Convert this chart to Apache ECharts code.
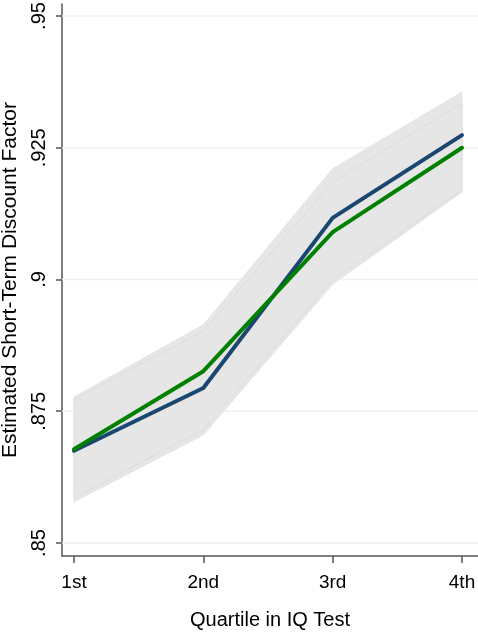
<!DOCTYPE html>
<html>
<head>
<meta charset="utf-8">
<script src="https://cdn.jsdelivr.net/npm/echarts@6/dist/echarts.min.js"></script>
<style>
  html, body { margin: 0; padding: 0; background: #fff; }
  #chart { width: 478px; height: 637px; }
</style>
</head>
<body>
<div id="chart"></div>
<script>
// Quartile categories on the x axis
const quartiles = ['1st', '2nd', '3rd', '4th'];
// Y tick values
const yTicks = [0.85, 0.875, 0.9, 0.925, 0.95];

// Point estimates
const navyEstimate = [0.8675, 0.8794, 0.9117, 0.9274];
const greenEstimate = [0.8678, 0.8826, 0.9090, 0.9250];

// Confidence bands (upper / lower)
const bandOuterUpper = [0.8777, 0.8914, 0.9210, 0.9356];
const bandOuterLower = [0.8578, 0.8705, 0.8991, 0.9166];
const bandInnerUpper = [0.8773, 0.8902, 0.9185, 0.9335];
const bandInnerLower = [0.8586, 0.8715, 0.9000, 0.9170];

const X_MIN = -0.0928, X_MAX = 3.1237;
const FONT = 'Liberation Sans';

const toPoints = arr => arr.map((v, i) => [i, v]);

function bandSeries(name, upper, lower, stroke) {
  return {
    name: name,
    type: 'custom',
    silent: true,
    z: 2,
    data: [0],
    renderItem: function (params, api) {
      const pts = [];
      for (let i = 0; i < upper.length; i++) pts.push(api.coord([i, upper[i]]));
      for (let i = lower.length - 1; i >= 0; i--) pts.push(api.coord([i, lower[i]]));
      return {
        type: 'polygon',
        shape: { points: pts },
        style: { fill: '#e6e6e6', stroke: stroke, lineWidth: 1 }
      };
    }
  };
}

// Horizontal grid lines at the y ticks
const gridLineSeries = {
  name: 'grid lines',
  type: 'custom',
  silent: true,
  z: 1,
  data: yTicks.map(v => [v]),
  renderItem: function (params, api) {
    const v = api.value(0);
    const a = api.coord([X_MIN, v]);
    const b = api.coord([X_MAX, v]);
    return {
      type: 'line',
      shape: { x1: a[0], y1: a[1], x2: b[0], y2: b[1] },
      style: { stroke: '#eaf2f3', lineWidth: 1.5 }
    };
  }
};

const chart = echarts.init(document.getElementById('chart'));
chart.setOption({
  animation: false,
  backgroundColor: '#ffffff',
  grid: { left: 62, right: 0, top: 4, bottom: 81, containLabel: false, outerBoundsMode: 'none' },
  xAxis: {
    type: 'value',
    min: X_MIN,
    max: X_MAX,
    name: 'Quartile in IQ Test',
    nameLocation: 'middle',
    nameGap: 54,
    nameTextStyle: { fontFamily: FONT, fontSize: 20, color: '#000' },
    axisLine: { onZero: false, lineStyle: { color: '#555', width: 1.5 } },
    axisTick: { customValues: [0, 1, 2, 3], length: 7, lineStyle: { color: '#555', width: 1.5 } },
    axisLabel: {
      customValues: [0, 1, 2, 3],
      formatter: v => quartiles[Math.round(v)],
      margin: 17,
      fontFamily: FONT, fontSize: 19, color: '#000'
    },
    splitLine: { show: false }
  },
  yAxis: {
    type: 'value',
    min: 0.84753,
    max: 0.95228,
    name: 'Estimated Short-Term Discount Factor',
    nameLocation: 'middle',
    nameGap: 38,
    nameRotate: 90,
    nameTextStyle: { fontFamily: FONT, fontSize: 21, color: '#000' },
    axisLine: { show: true, onZero: false, lineStyle: { color: '#555', width: 1.5 } },
    axisTick: { show: true, customValues: yTicks, length: 6, lineStyle: { color: '#555', width: 1.5 } },
    axisLabel: {
      customValues: yTicks,
      rotate: 90,
      margin: 13,
      formatter: v => String(v).replace(/^0/, ''),
      fontFamily: FONT, fontSize: 20, color: '#000'
    },
    splitLine: { show: false }
  },
  series: [
    gridLineSeries,
    bandSeries('outer band', bandOuterUpper, bandOuterLower, '#e6e6e6'),
    bandSeries('inner band', bandInnerUpper, bandInnerLower, '#dcdcdc'),
    {
      name: 'navy',
      type: 'line',
      z: 3,
      data: toPoints(navyEstimate),
      showSymbol: false,
      lineStyle: { color: '#1a476f', width: 4, cap: 'round', join: 'round' }
    },
    {
      name: 'green',
      type: 'line',
      z: 4,
      data: toPoints(greenEstimate),
      showSymbol: false,
      lineStyle: { color: '#008000', width: 4, cap: 'round', join: 'round' }
    }
  ]
});
</script>
</body>
</html>
